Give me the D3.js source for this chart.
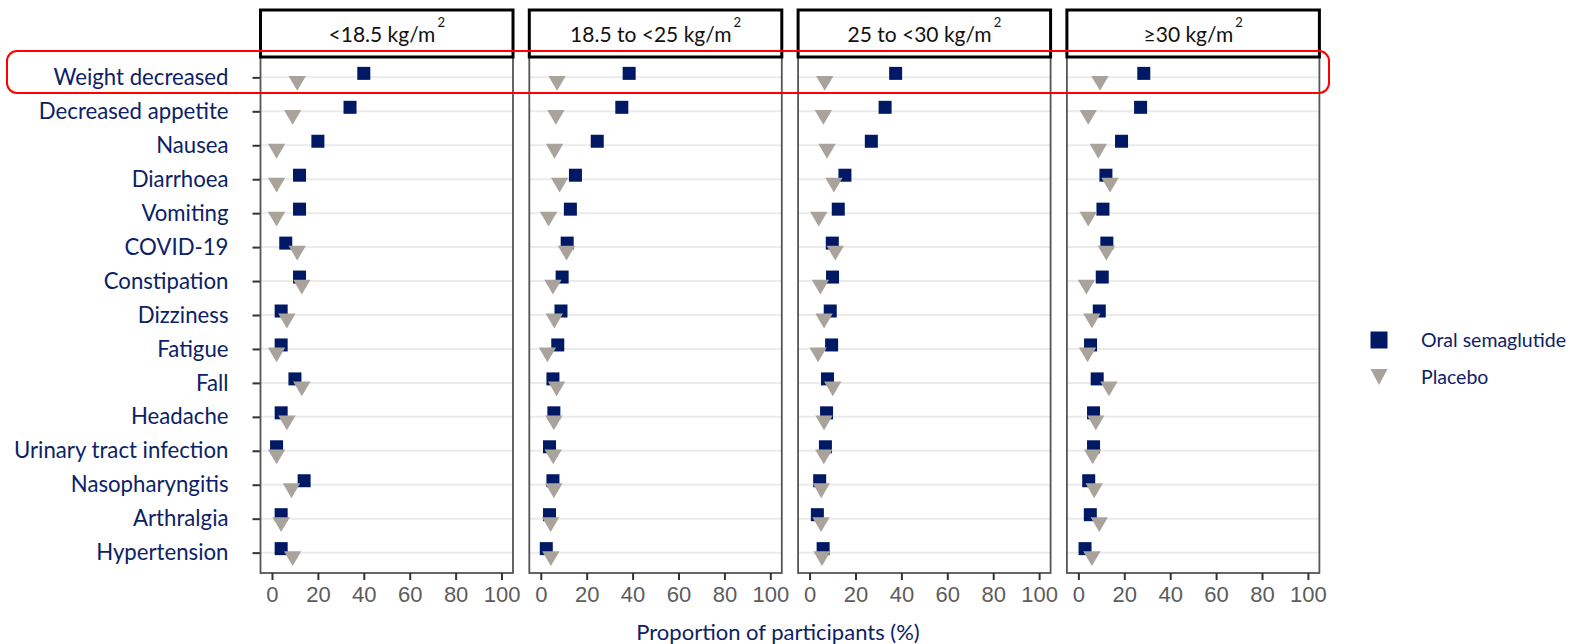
<!DOCTYPE html>
<meta charset="utf-8" />
<script src="https://d3js.org/d3.v7.min.js"></script>
<style>
  body { margin: 0; background: #fff; }
</style>
<body>
  <div id="chart"></div>
  <script>
    // adverse events, top to bottom
    const events = [
      "Weight decreased", "Decreased appetite", "Nausea", "Diarrhoea", "Vomiting",
      "COVID-19", "Constipation", "Dizziness", "Fatigue", "Fall", "Headache",
      "Urinary tract infection", "Nasopharyngitis", "Arthralgia", "Hypertension"
    ];
    const bmiGroups = ["<18.5", "18.5 to <25", "25 to <30", "\u226530"];
    const xTicks = [0, 20, 40, 60, 80, 100];

    // proportion of participants (%) per BMI group
    const semaUnder = [40, 34, 20, 12, 12, 6, 12, 4, 4, 10, 4, 2, 14, 4, 4];
    const placeboUnder = [11, 9, 2, 2, 2, 11, 13, 6.5, 2, 13, 6.5, 2, 8.5, 4, 9];
    const semaNormal = [38.5, 35.3, 24.6, 15.1, 12.9, 11.5, 9.3, 8.8, 7.4, 5.3, 5.7, 3.8, 5.3, 3.8, 2.4];
    const placeboNormal = [7.1, 6.6, 6, 8.2, 3.4, 11.2, 5.3, 5.9, 2.9, 6.9, 5.7, 5.4, 5.7, 4.3, 4.4];
    const semaOver = [37.5, 32.9, 26.9, 15.4, 12.5, 9.9, 10, 9, 9.6, 7.8, 7.4, 6.9, 4.4, 3.4, 5.9];
    const placeboOver = [6.6, 6, 7.6, 10.6, 4, 11.2, 4.7, 6.3, 3.7, 10.1, 6.3, 6.2, 5.1, 5, 5.4];
    const semaObese = [28.5, 27.1, 18.8, 12, 10.7, 12.4, 10.4, 9.1, 5.3, 8.2, 6.6, 6.6, 4.5, 5.2, 2.9];
    const placeboObese = [9.4, 4.3, 8.7, 13.8, 4.3, 12.2, 3.5, 5.9, 4, 13.3, 7.6, 6.2, 6.9, 9.1, 5.9];

    const semaByGroup = [semaUnder, semaNormal, semaOver, semaObese];
    const placeboByGroup = [placeboUnder, placeboNormal, placeboOver, placeboObese];

    const navy = "#001965";
    const taupe = "#aaa39b";
    const textNavy = "#0c2266";
    const font = "Lato, 'Open Sans', sans-serif";

    const W = 1572, H = 644;
    const svg = d3.select("#chart").append("svg")
      .attr("width", W).attr("height", H)
      .style("font-family", font);

    const stripTop = 10, plotTop = 57, plotBottom = 573;
    const panelLeft0 = 260.5, panelStep = 268.8, panelW = 252.5;

    const y = d3.scalePoint().domain(events).range([plotTop, plotBottom]).padding(0.6);

    // y labels + ticks
    const yAxis = svg.append("g").attr("transform", `translate(${panelLeft0},0)`)
      .call(d3.axisLeft(y).tickSize(8).tickPadding(24));
    yAxis.select(".domain").remove();
    yAxis.selectAll(".tick line").attr("stroke", "#333").attr("stroke-width", 2);
    yAxis.selectAll(".tick text")
      .attr("fill", textNavy)
      .style("font-size", "22.2px")
      .style("font-family", font);

    bmiGroups.forEach(function (g, i) {
      const left = panelLeft0 + i * panelStep;
      const x = d3.scaleLinear().domain([-5, 105]).range([left, left + panelW]);
      const panel = svg.append("g");

      // grid lines
      panel.selectAll("line.grid").data(events).enter().append("line")
        .attr("x1", left).attr("x2", left + panelW)
        .attr("y1", d => y(d)).attr("y2", d => y(d))
        .attr("stroke", "#ebebeb").attr("stroke-width", 2);

      // semaglutide squares
      panel.selectAll("rect.sema").data(semaByGroup[i]).enter().append("rect")
        .attr("x", d => x(d) - 6.5)
        .attr("y", (d, k) => y(events[k]) - 10.5)
        .attr("width", 13).attr("height", 13)
        .attr("fill", navy);

      // placebo triangles (pointing down)
      panel.selectAll("path.placebo").data(placeboByGroup[i]).enter().append("path")
        .attr("d", "M-8.7,-4.9L8.7,-4.9L0,9.9Z")
        .attr("transform", (d, k) => `translate(${x(d)},${y(events[k]) + 3.5})`)
        .attr("fill", taupe);

      // panel frame
      panel.append("rect")
        .attr("x", left).attr("y", plotTop)
        .attr("width", panelW).attr("height", plotBottom - plotTop)
        .attr("fill", "none").attr("stroke", "#555").attr("stroke-width", 1.8);

      // strip
      panel.append("rect")
        .attr("x", left).attr("y", stripTop)
        .attr("width", panelW).attr("height", plotTop - stripTop)
        .attr("fill", "#fff").attr("stroke", "#000").attr("stroke-width", 3);
      const label = panel.append("text")
        .attr("x", left + panelW / 2).attr("y", 42)
        .attr("text-anchor", "middle")
        .style("font-size", "21px").attr("fill", "#111");
      label.append("tspan").text(g + " kg/m");
      label.append("tspan").attr("dy", -15).attr("dx", 2).style("font-size", "13px").text("2");

      // x axis
      const xAxis = panel.append("g").attr("transform", `translate(0,${plotBottom})`)
        .call(d3.axisBottom(x).tickValues(xTicks).tickSize(7).tickPadding(6));
      xAxis.select(".domain").remove();
      xAxis.selectAll(".tick line").attr("stroke", "#333").attr("stroke-width", 2);
      xAxis.selectAll(".tick text")
        .attr("fill", "#5c5c5c")
        .style("font-size", "22px")
        .style("font-family", "'Liberation Sans', Arial, sans-serif");
    });

    // x axis title
    svg.append("text")
      .attr("x", 778).attr("y", 640)
      .attr("text-anchor", "middle")
      .attr("fill", textNavy)
      .style("font-size", "22px")
      .text("Proportion of participants (%)");

    // legend
    const legend = svg.append("g");
    legend.append("rect").attr("x", 1370.5).attr("y", 331.5).attr("width", 17).attr("height", 17).attr("fill", navy);
    legend.append("path").attr("d", "M-8.5,-8L8.5,-8L0,8Z")
      .attr("transform", "translate(1379,377)").attr("fill", taupe);
    legend.append("text").attr("x", 1421).attr("y", 347).attr("fill", textNavy)
      .style("font-size", "19.5px").text("Oral semaglutide");
    legend.append("text").attr("x", 1421).attr("y", 384).attr("fill", textNavy)
      .style("font-size", "19.5px").text("Placebo");

    // highlight box around first row
    svg.append("rect")
      .attr("x", 7).attr("y", 51)
      .attr("width", 1322).attr("height", 42)
      .attr("rx", 10)
      .attr("fill", "none").attr("stroke", "#ff0000").attr("stroke-width", 2);
  </script>
</body>
